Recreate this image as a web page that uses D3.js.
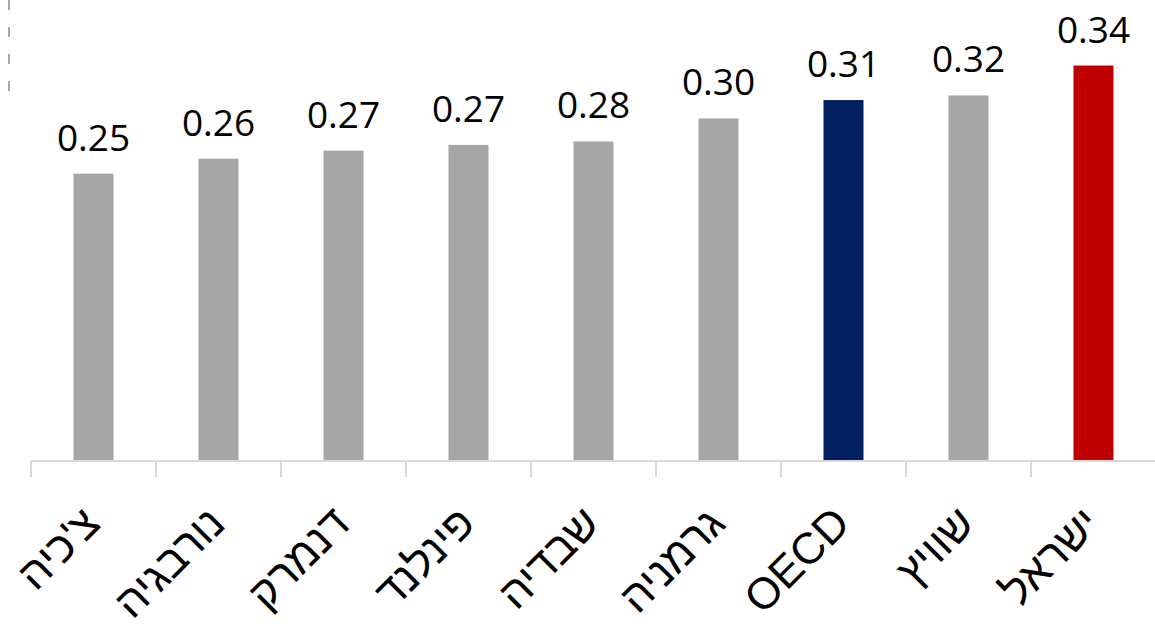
<!DOCTYPE html>
<html><head><meta charset="utf-8">
<script src="https://cdn.jsdelivr.net/npm/d3@7"></script>
<style>body{margin:0;background:#fff;} svg{display:block;}</style>
</head><body>
<svg id="c" width="1155" height="636"></svg>
<script>
const categories = ["צ'כיה","נורבגיה","דנמרק","פינלנד","שבדיה","גרמניה","OECD","שוויץ","ישראל"];
const values = [0.249, 0.262, 0.269, 0.274, 0.277, 0.297, 0.313, 0.317, 0.343];
const valueLabels = ["0.25","0.26","0.27","0.27","0.28","0.30","0.31","0.32","0.34"];
const barColors = ["#a6a6a6","#a6a6a6","#a6a6a6","#a6a6a6","#a6a6a6","#a6a6a6","#002060","#a6a6a6","#c00000"];

const svg = d3.select("#c");
const x = d3.scaleBand().domain(categories).range([31, 1156]).paddingInner(0.68).paddingOuter(0.34);
const y = d3.scaleLinear().domain([0, 0.4]).range([460, 0]);
const valFont = "'Open Sans','DejaVu Sans',sans-serif";
const catFont = "'Liberation Sans','DejaVu Sans',sans-serif";

// dashed artifact at top-left
svg.append("line").attr("x1",9).attr("x2",9).attr("y1",0).attr("y2",101)
  .attr("stroke","#a6a6a6").attr("stroke-width",2).attr("stroke-dasharray","10,17");

svg.selectAll("rect.bar").data(categories).enter().append("rect")
  .attr("x", d => x(d)).attr("width", x.bandwidth())
  .attr("y", (d,i) => y(values[i])).attr("height", (d,i) => y(0) - y(values[i]))
  .attr("fill", (d,i) => barColors[i]);

svg.selectAll("text.val").data(categories).enter().append("text")
  .attr("x", d => x(d) + x.bandwidth()/2).attr("y", (d,i) => y(values[i]) - 23)
  .attr("text-anchor","middle").attr("font-family",valFont).attr("font-size",37).attr("fill","#000")
  .text((d,i) => valueLabels[i]);

// axis
const step = x.step();
const axisG = svg.append("g");
axisG.append("line").attr("x1",31).attr("x2",1156).attr("y1",y(0)+1).attr("y2",y(0)+1)
  .attr("stroke","#d9d9d9").attr("stroke-width",2);
const tickPos = d3.range(categories.length).map(i => 31 + i*step);
axisG.selectAll("line.tick").data(tickPos).enter().append("line")
  .attr("x1", d=>d).attr("x2", d=>d).attr("y1", y(0)+1).attr("y2", y(0)+17)
  .attr("stroke","#d9d9d9").attr("stroke-width",2);

svg.selectAll("text.cat").data(categories).enter().append("text")
  .attr("transform", d => `translate(${x(d)+x.bandwidth()/2-13},${y(0)+44}) rotate(-45)`)
  .attr("text-anchor","end").attr("dy","0.7em")
  .attr("font-family",catFont).attr("font-size",44).attr("fill","#000")
  .text(d => d);
</script>
</body></html>
